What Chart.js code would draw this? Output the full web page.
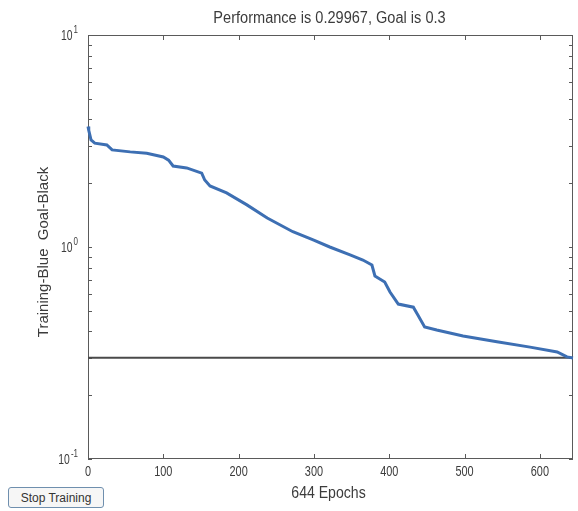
<!DOCTYPE html>
<html>
<head>
<meta charset="utf-8">
<script src="https://cdn.jsdelivr.net/npm/chart.js@4.4.1/dist/chart.umd.min.js"></script>
<style>
    html, body { margin: 0; padding: 0; background: #ffffff; }
    #wrap { position: relative; width: 578px; height: 511px; }
    #perfChart { position: absolute; left: 0; top: 0; }
    #stopBtn {
        position: absolute; left: 8px; top: 487px; width: 96px; height: 21px;
        border: 1px solid #6f8fae; border-radius: 3px; background: #f6f6f6;
        font: 12px "Liberation Sans", Arial, sans-serif; color: #333;
        padding: 0; margin: 0;
    }
</style>
</head>
<body>
<div id="wrap">
    <canvas id="perfChart" width="578" height="511"></canvas>
    <button id="stopBtn">Stop Training</button>
</div>
<script>
    "use strict";

    // training record
    var epochs = [0, 1, 4, 9, 25, 32, 56, 78, 100, 107, 113, 131, 151, 155, 162, 184, 211, 238, 272, 299,
        321, 348, 365, 377, 381, 394, 401, 412, 432, 438, 447, 463, 498, 543, 587, 623, 636, 644];
    var performance = [3.7, 3.55, 3.2, 3.09, 3.03, 2.87, 2.81, 2.77, 2.66, 2.57, 2.41, 2.36, 2.23, 2.07, 1.94, 1.80,
        1.58, 1.37, 1.18, 1.08, 1.00, 0.917, 0.868, 0.822, 0.73, 0.684, 0.613, 0.538, 0.52, 0.478, 0.42, 0.406,
        0.38, 0.357, 0.337, 0.32, 0.303, 0.29967];
    var goal = 0.3;
    var maxEpoch = 644;

    // axes
    var xTicks = [0, 100, 200, 300, 400, 500, 600];
    var yMajorTicks = [0.1, 1, 10];
    var yMajorExponents = ['-1', '0', '1'];
    var yMinorTicks = [0.2, 0.3, 0.4, 0.5, 0.6, 0.7, 0.8, 0.9, 2, 3, 4, 5, 6, 7, 8, 9];

    var titleText = 'Performance is 0.29967, Goal is 0.3';
    var xTitleText = maxEpoch + ' Epochs';
    var yTitleText = 'Training-Blue  Goal-Black';

    var FONT = '"Liberation Sans", Arial, sans-serif';
    var TEXT_COLOR = '#3c3c3c';

    function drawText(ctx, txt, x, y, size, sx, align, baseline, rot) {
        ctx.save();
        ctx.translate(x, y);
        if (rot) ctx.rotate(rot);
        ctx.scale(sx, 1);
        ctx.font = size + 'px ' + FONT;
        ctx.fillStyle = TEXT_COLOR;
        ctx.textAlign = align;
        ctx.textBaseline = baseline;
        ctx.fillText(txt, 0, 0);
        ctx.restore();
    }

    function textWidth(ctx, txt, size, sx) {
        ctx.save();
        ctx.font = size + 'px ' + FONT;
        var w = ctx.measureText(txt).width * sx;
        ctx.restore();
        return w;
    }

    // MATLAB-like box with inward ticks, drawn under the lines
    var axesBoxPlugin = {
        id: 'axesBox',
        beforeDatasetsDraw: function(chart) {
            var ctx = chart.ctx;
            var area = chart.chartArea;
            var xs = chart.scales.x;
            var ys = chart.scales.y;
            ctx.save();
            ctx.strokeStyle = '#5a5a5a';
            ctx.lineWidth = 1;
            ctx.strokeRect(area.left + 0.5, area.top + 0.5, area.right - area.left - 1, area.bottom - area.top - 1);

            ctx.beginPath();
            xTicks.forEach(function(v) {
                var px = Math.round(xs.getPixelForValue(v)) + 0.5;
                ctx.moveTo(px, area.bottom);
                ctx.lineTo(px, area.bottom - 5);
                ctx.moveTo(px, area.top);
                ctx.lineTo(px, area.top + 5);
            });
            yMajorTicks.concat(yMinorTicks).forEach(function(v) {
                var py = Math.round(ys.getPixelForValue(v)) + 0.5;
                ctx.moveTo(area.left, py);
                ctx.lineTo(area.left + 4, py);
                ctx.moveTo(area.right, py);
                ctx.lineTo(area.right - 4, py);
            });
            ctx.stroke();
            ctx.restore();
        },
        afterDraw: function(chart) {
            var ctx = chart.ctx;
            var area = chart.chartArea;
            var xs = chart.scales.x;
            var ys = chart.scales.y;
            var midX = (area.left + area.right) / 2;

            drawText(ctx, titleText, midX - 1, 19, 16, 0.91, 'center', 'middle');

            xTicks.forEach(function(v) {
                drawText(ctx, String(v), xs.getPixelForValue(v), area.bottom + 13, 14, 0.78, 'center', 'middle');
            });

            yMajorTicks.forEach(function(v, i) {
                var py = ys.getPixelForValue(v);
                var right = area.left - 10;
                var supW = textWidth(ctx, yMajorExponents[i], 10, 0.8);
                drawText(ctx, yMajorExponents[i], right, py - 5, 10, 0.8, 'right', 'middle');
                drawText(ctx, '10', right - supW - 1, py + 1, 14, 0.74, 'right', 'middle');
            });

            drawText(ctx, xTitleText, midX - 2, area.bottom + 35, 16, 0.88, 'center', 'middle');
            drawText(ctx, yTitleText, 44, (area.top + area.bottom) / 2 + 5, 15, 1, 'center', 'middle', -Math.PI / 2);
        }
    };

    var trainingPoints = epochs.map(function(e, i) {
        return { x: e, y: performance[i] };
    });
    var goalPoints = [{ x: 0, y: goal }, { x: maxEpoch, y: goal }];

    var ctx = document.getElementById('perfChart').getContext('2d');
    new Chart(ctx, {
        type: 'line',
        data: {
            datasets: [{
                label: 'Training',
                data: trainingPoints,
                borderColor: '#3d6fb3',
                borderWidth: 3,
                pointRadius: 0,
                tension: 0,
                clip: 3
            }, {
                label: 'Goal',
                data: goalPoints,
                borderColor: '#4a4a4a',
                borderWidth: 2,
                pointRadius: 0,
                tension: 0
            }]
        },
        options: {
            responsive: false,
            animation: false,
            events: [],
            layout: {
                padding: { left: 88, right: 5, top: 35, bottom: 52 }
            },
            plugins: {
                legend: { display: false },
                title: { display: false },
                tooltip: { enabled: false }
            },
            scales: {
                x: {
                    type: 'linear',
                    display: false,
                    min: 0,
                    max: maxEpoch
                },
                y: {
                    type: 'logarithmic',
                    display: false,
                    min: 0.1,
                    max: 10
                }
            }
        },
        plugins: [axesBoxPlugin]
    });
</script>
</body>
</html>
